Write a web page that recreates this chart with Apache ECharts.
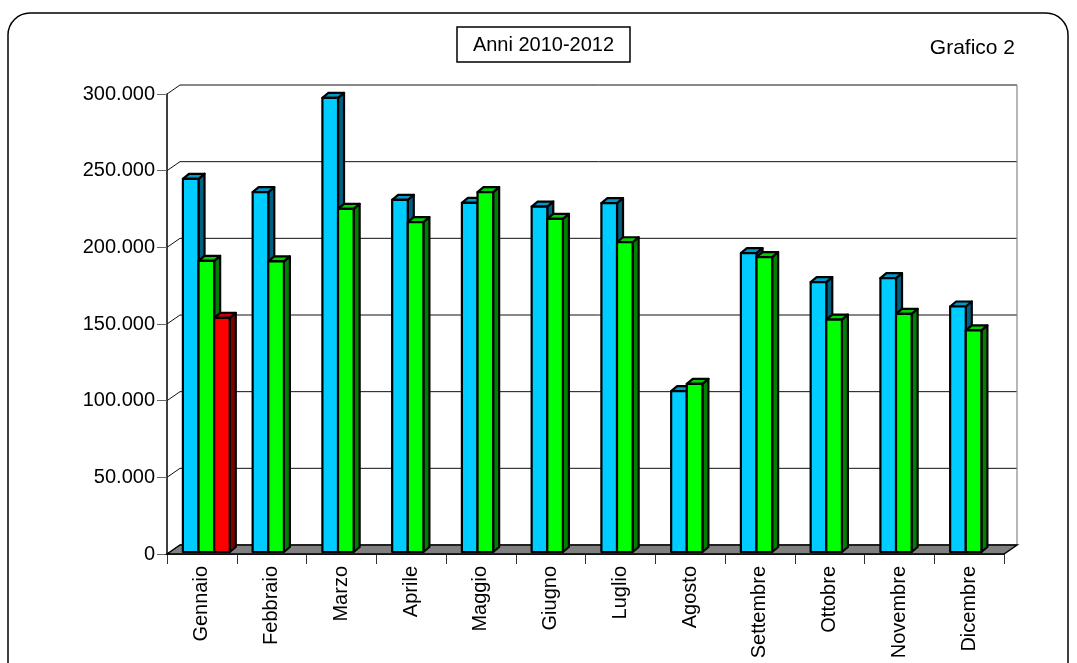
<!DOCTYPE html>
<html><head><meta charset="utf-8">
<script src="https://cdn.jsdelivr.net/npm/echarts@6/dist/echarts.min.js"></script>
<style>html,body{margin:0;padding:0;background:#fff}#c{width:1077px;height:663px}</style>
</head><body><div id="c"></div>
<script>
// ---- data ----
const months = ['Gennaio','Febbraio','Marzo','Aprile','Maggio','Giugno','Luglio','Agosto','Settembre','Ottobre','Novembre','Dicembre'];
const yTicks = [0, 50000, 100000, 150000, 200000, 250000, 300000];
const v2010 = [243400, 234700, 296200, 229700, 227700, 225300, 227500, 104900, 194900, 176000, 178600, 160100];
const v2011 = [189900, 189500, 223800, 215100, 234700, 217300, 202000, 109700, 192300, 151600, 155300, 144500];
const v2012 = [152700, null, null, null, null, null, null, null, null, null, null, null];

// ---- geometry / style ----
const WALL_DX = 13, WALL_DY = -9;
const BAR_DX = 6, BAR_DY = -5, BAR_SHIFT = -2;
const SLOT_START = 0.228, SLOT_W = 0.224;
const FONT = '"Liberation Sans", Arial, sans-serif';
const palette = [
  {front:'#00CCFF', top:'#0099CC', side:'#006080'},
  {front:'#00FF00', top:'#00CC00', side:'#008000'},
  {front:'#FF0000', top:'#CC0000', side:'#800000'}
];

function fmt(v){ return String(v).replace(/\B(?=(\d{3})+(?!\d))/g, '.'); }

function toItems(arr){
  const out = [];
  arr.forEach((v,i)=>{ if(v!=null) out.push([i, v]); });
  return out;
}

function barRenderer(slot){
  const c = palette[slot];
  return function(params, api){
    const ci = api.value(0), v = api.value(1);
    const base = api.coord([ci, 0]);
    const top = api.coord([ci, v]);
    const bw = api.size([1, 0])[0];
    const x0 = base[0] - bw/2 + bw*(SLOT_START + slot*SLOT_W);
    const w = bw*SLOT_W;
    const yb = base[1] + BAR_SHIFT, yt = top[1] + BAR_SHIFT;
    const st = {stroke:'#000', lineWidth:2.2, lineJoin:'round'};
    return {type:'group', children:[
      {type:'polygon', shape:{points:[[x0+w,yt],[x0+w+BAR_DX,yt+BAR_DY],[x0+w+BAR_DX,yb+BAR_DY],[x0+w,yb]]}, style:Object.assign({fill:c.side}, st)},
      {type:'polygon', shape:{points:[[x0,yt],[x0+BAR_DX,yt+BAR_DY],[x0+w+BAR_DX,yt+BAR_DY],[x0+w,yt]]}, style:Object.assign({fill:c.top}, st)},
      {type:'rect', shape:{x:x0, y:yt, width:w, height:yb-yt}, style:Object.assign({fill:c.front}, st)}
    ]};
  };
}

function wallRenderer(params, api){
  const cs = params.coordSys;
  const y = api.coord([0, api.value(1)])[1];
  return {type:'polyline', shape:{points:[[cs.x, y],[cs.x+WALL_DX, y+WALL_DY],[cs.x+cs.width+WALL_DX, y+WALL_DY]]},
    style:{stroke:'#111', lineWidth:1, fill:null}};
}

function floorRenderer(params, api){
  const cs = params.coordSys;
  const yb = api.coord([0, 0])[1];
  const yt = api.coord([0, yTicks[yTicks.length-1]])[1];
  const xl = cs.x, xr = cs.x + cs.width;
  return {type:'group', children:[
    {type:'line', shape:{x1:xr+WALL_DX, y1:yt+WALL_DY, x2:xr+WALL_DX, y2:yb+WALL_DY}, style:{stroke:'#888', lineWidth:1.2}},
    {type:'polygon', shape:{points:[[xl,yb],[xl+WALL_DX,yb+WALL_DY],[xr+WALL_DX,yb+WALL_DY],[xr,yb]]},
      style:{fill:'#808080', stroke:'#000', lineWidth:1.5}}
  ]};
}

const chart = echarts.init(document.getElementById('c'), null, {renderer:'canvas'});
chart.setOption({
  animation:false,
  backgroundColor:'#fff',
  grid:{left:167, top:94, width:837, height:460, containLabel:false},
  xAxis:{
    type:'category', data:months, boundaryGap:true,
    axisLine:{show:true, lineStyle:{color:'#000', width:1.5}},
    axisTick:{show:true, length:10, lineStyle:{color:'#333', width:1}},
    axisLabel:{rotate:90, margin:12, fontSize:20, color:'#000', fontFamily:FONT},
    splitLine:{show:false}
  },
  yAxis:{
    type:'value', min:0, max:300000, interval:50000,
    axisLine:{show:true, lineStyle:{color:'#000', width:1.5}},
    axisTick:{show:true, length:10, lineStyle:{color:'#666', width:1}},
    axisLabel:{margin:12, fontSize:20, color:'#000', fontFamily:FONT, formatter:fmt},
    splitLine:{show:false}
  },
  series:[
    {type:'custom', name:'walls', renderItem:wallRenderer, data:yTicks.map(v=>[0,v]), silent:true, z:1},
    {type:'custom', name:'floor', renderItem:floorRenderer, data:[[0,0]], silent:true, z:1},
    {type:'custom', name:'2010', renderItem:barRenderer(0), data:toItems(v2010), z:3},
    {type:'custom', name:'2011', renderItem:barRenderer(1), data:toItems(v2011), z:3},
    {type:'custom', name:'2012', renderItem:barRenderer(2), data:toItems(v2012), z:3}
  ],
  graphic:[
    {type:'rect', shape:{x:8, y:13, width:1060, height:720, r:22}, style:{fill:'none', stroke:'#000', lineWidth:1.5}, z:-10},
    {type:'rect', shape:{x:457, y:27, width:173, height:35}, style:{fill:'#fff', stroke:'#000', lineWidth:1.5}},
    {type:'text', x:543.5, y:45, style:{text:'Anni 2010-2012', fontSize:20, fontFamily:FONT, fill:'#000', align:'center', verticalAlign:'middle'}},
    {type:'text', x:1015, y:48, style:{text:'Grafico 2', fontSize:21, fontFamily:FONT, fill:'#000', align:'right', verticalAlign:'middle'}}
  ]
});
</script>
</body></html>
